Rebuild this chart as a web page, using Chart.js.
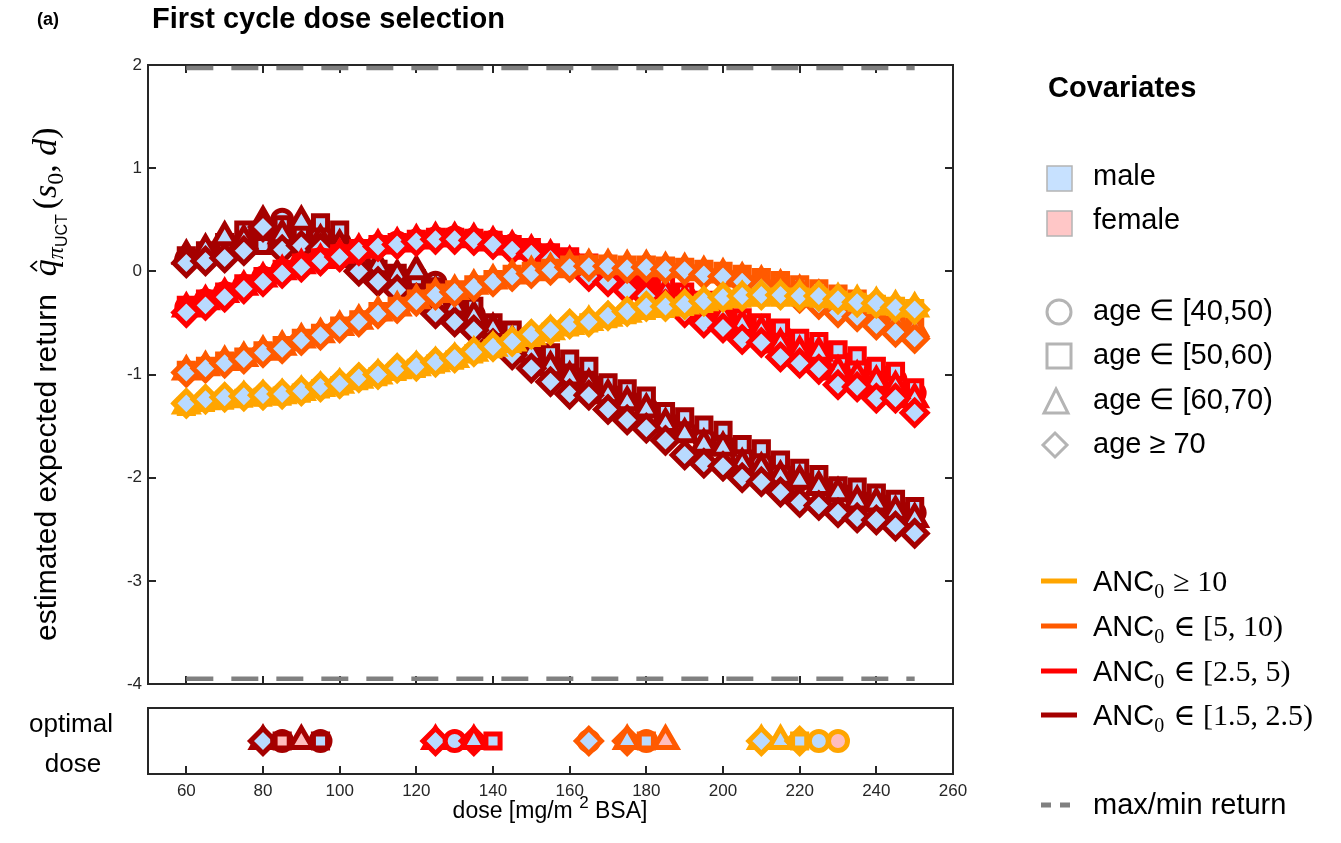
<!DOCTYPE html>
<html>
<head>
<meta charset="utf-8">
<script src="https://cdn.jsdelivr.net/npm/chart.js@4.4.0/dist/chart.umd.min.js"></script>
<style>
  html, body { margin: 0; padding: 0; background: #fff; }
  #wrap { position: relative; width: 1341px; height: 843px; overflow: hidden; }
  #mainChart { position: absolute; left: 0; top: 0; }
  #optChart { position: absolute; left: 0; top: 690px; }
</style>
</head>
<body>
<div id="wrap">
  <canvas id="mainChart" width="1341" height="843"></canvas>
  <canvas id="optChart" width="1341" height="153"></canvas>
</div>
<script>
// dose grid (mg/m^2 BSA)
const doses = [60,65,70,75,80,85,90,95,100,105,110,115,120,125,130,135,140,145,150,155,160,165,170,175,180,185,190,195,200,205,210,215,220,225,230,235,240,245,250];

// ANC0 >= 10
const yelSq  = [-1.31,-1.27,-1.25,-1.23,-1.22,-1.21,-1.18,-1.14,-1.11,-1.06,-1.02,-0.97,-0.94,-0.90,-0.86,-0.80,-0.75,-0.70,-0.64,-0.59,-0.54,-0.50,-0.46,-0.42,-0.38,-0.36,-0.34,-0.31,-0.28,-0.26,-0.25,-0.25,-0.25,-0.26,-0.28,-0.30,-0.32,-0.34,-0.36];
const yelTri = [-1.30,-1.26,-1.24,-1.22,-1.21,-1.20,-1.17,-1.13,-1.10,-1.05,-1.01,-0.96,-0.93,-0.89,-0.85,-0.79,-0.74,-0.69,-0.63,-0.58,-0.53,-0.49,-0.45,-0.41,-0.36,-0.35,-0.33,-0.30,-0.27,-0.25,-0.24,-0.24,-0.24,-0.25,-0.27,-0.29,-0.31,-0.34,-0.36];
const yelDia = [-1.28,-1.24,-1.22,-1.21,-1.20,-1.19,-1.16,-1.12,-1.09,-1.03,-1.00,-0.94,-0.92,-0.88,-0.84,-0.78,-0.73,-0.68,-0.61,-0.57,-0.51,-0.49,-0.43,-0.39,-0.34,-0.34,-0.32,-0.29,-0.25,-0.24,-0.23,-0.23,-0.24,-0.24,-0.27,-0.30,-0.31,-0.35,-0.37];

// ANC0 in [5,10)
const orgSq  = [-0.96,-0.92,-0.87,-0.83,-0.77,-0.72,-0.65,-0.60,-0.53,-0.47,-0.39,-0.34,-0.27,-0.21,-0.18,-0.13,-0.08,-0.03,0.00,0.03,0.06,0.07,0.07,0.06,0.06,0.05,0.04,0.02,0.00,-0.03,-0.06,-0.09,-0.13,-0.17,-0.22,-0.27,-0.33,-0.41,-0.48];
const orgTri = [-0.97,-0.93,-0.88,-0.84,-0.78,-0.73,-0.66,-0.61,-0.54,-0.48,-0.40,-0.35,-0.28,-0.22,-0.19,-0.14,-0.09,-0.04,-0.01,0.02,0.05,0.06,0.06,0.05,0.05,0.03,0.02,-0.01,-0.03,-0.07,-0.10,-0.14,-0.19,-0.24,-0.30,-0.35,-0.42,-0.48,-0.55];
const orgDia = [-0.98,-0.94,-0.89,-0.85,-0.79,-0.75,-0.67,-0.62,-0.55,-0.49,-0.41,-0.36,-0.29,-0.23,-0.20,-0.15,-0.10,-0.05,-0.02,0.01,0.04,0.05,0.05,0.03,0.04,0.02,0.01,-0.03,-0.05,-0.10,-0.16,-0.21,-0.26,-0.32,-0.40,-0.44,-0.52,-0.59,-0.65];

// ANC0 in [2.5,5)
const redCirc = [-0.35,-0.28,-0.21,-0.14,-0.06,0.01,0.07,0.12,0.16,0.21,0.25,0.28,0.30,0.32,0.33,0.31,0.29,0.25,0.21,0.16,0.11,0.05,-0.01,-0.07,-0.13,-0.18,-0.24,-0.32,-0.41,-0.48,-0.54,-0.62,-0.71,-0.74,-0.86,-0.92,-0.99,-1.05,-1.18];
const redSq   = [-0.33,-0.27,-0.20,-0.12,-0.05,0.02,0.08,0.13,0.17,0.22,0.26,0.28,0.31,0.33,0.33,0.32,0.30,0.26,0.23,0.18,0.14,0.08,0.02,-0.04,-0.10,-0.13,-0.20,-0.28,-0.38,-0.45,-0.50,-0.55,-0.65,-0.68,-0.76,-0.82,-0.92,-0.97,-1.13];
const redTri  = [-0.36,-0.29,-0.22,-0.15,-0.07,0.00,0.06,0.11,0.16,0.21,0.25,0.27,0.30,0.32,0.32,0.31,0.28,0.24,0.20,0.15,0.09,0.03,-0.03,-0.09,-0.16,-0.22,-0.28,-0.36,-0.44,-0.52,-0.58,-0.71,-0.78,-0.79,-0.97,-1.02,-1.07,-1.12,-1.24];
const redDia  = [-0.40,-0.33,-0.25,-0.17,-0.10,-0.02,0.04,0.10,0.14,0.20,0.24,0.26,0.29,0.31,0.31,0.30,0.26,0.21,0.17,0.12,0.04,-0.05,-0.10,-0.18,-0.24,-0.32,-0.40,-0.50,-0.55,-0.66,-0.69,-0.83,-0.89,-0.95,-1.10,-1.12,-1.23,-1.23,-1.37];

// ANC0 in [1.5,2.5)
const drCirc = [0.12,0.15,0.22,0.28,0.35,0.50,0.40,0.35,0.28,0.10,0.00,-0.05,-0.10,-0.11,-0.30,-0.42,-0.55,-0.66,-0.78,-0.90,-1.00,-1.08,-1.18,-1.25,-1.32,-1.45,-1.55,-1.62,-1.68,-1.80,-1.86,-1.95,-2.02,-2.07,-2.14,-2.21,-2.24,-2.30,-2.34];
const drSq   = [0.15,0.20,0.28,0.40,0.25,0.45,0.40,0.47,0.40,0.15,0.02,-0.02,-0.07,-0.15,-0.28,-0.34,-0.50,-0.57,-0.70,-0.79,-0.85,-0.92,-1.08,-1.14,-1.21,-1.36,-1.41,-1.49,-1.54,-1.68,-1.72,-1.83,-1.91,-1.97,-2.08,-2.09,-2.15,-2.21,-2.28];
const drTri  = [0.15,0.21,0.33,0.30,0.48,0.35,0.48,0.30,0.25,0.12,0.05,-0.04,0.00,-0.20,-0.34,-0.44,-0.56,-0.68,-0.80,-0.93,-1.03,-1.10,-1.20,-1.27,-1.34,-1.48,-1.58,-1.68,-1.71,-1.87,-1.91,-1.99,-2.03,-2.09,-2.15,-2.23,-2.25,-2.33,-2.40];
const drDia  = [0.08,0.10,0.13,0.20,0.43,0.21,0.25,0.22,0.15,0.00,-0.10,-0.18,-0.26,-0.41,-0.49,-0.57,-0.70,-0.81,-0.94,-1.07,-1.19,-1.20,-1.34,-1.44,-1.52,-1.64,-1.78,-1.86,-1.89,-2.00,-2.04,-2.14,-2.24,-2.27,-2.34,-2.39,-2.41,-2.47,-2.54];

const maxReturn = 1.97;
const minReturn = -3.95;

// optimal dose panel: dose, ANC group (0 = >=10 ... 3 = [1.5,2.5)), age group, sex
const optDose  = [80,80,85,85,90,95,95, 125,125,130,135,135,140, 165,165,175,175,180,180,185, 210,210,215,220,220,225,230];
const optGroup = [3,3,3,3,3,3,3, 2,2,2,2,2,2, 1,1,1,1,1,1,1, 0,0,0,0,0,0,0];
const optAge   = [2,3,0,1,2,0,1, 2,3,0,3,2,1, 0,3,3,2,0,1,2, 2,3,2,3,1,0,0];
const optSex   = ['m','m','m','f','f','m','m', 'm','m','m','m','m','m', 'm','m','m','m','m','m','f', 'm','m','m','m','m','m','f'];

const xTickVals = [60,80,100,120,140,160,180,200,220,240,260];
const yTickVals = [-4,-3,-2,-1,0,1,2];

const ancColors = ['#FFA500', '#FF5A00', '#FF0000', '#A50000'];
const ancRel = ['\u2265 10', '\u2208 [5, 10)', '\u2208 [2.5, 5)', '\u2208 [1.5, 2.5)'];
const ageLabels = ['age \u2208 [40,50)', 'age \u2208 [50,60)', 'age \u2208 [60,70)', 'age \u2265 70'];
const ageStyle = ['circle', 'rect', 'triangle', 'rectRot'];
const ageRadius = [9.5, 10, 13, 12.5];
const markEdge = 5;
const maleFill = '#B9DAFF';
const femaleFill = '#FFBDBD';

const SANS = '"Liberation Sans", Arial, Helvetica, sans-serif';
const SERIF = '"Liberation Serif", "DejaVu Serif", "Times New Roman", serif';
const INK = '#262626';

function series(values, anc, age) {
    return {
        data: values.map((v, i) => ({ x: doses[i], y: v })),
        showLine: false,
        pointStyle: ageStyle[age],
        pointRadius: ageRadius[age],
        pointHoverRadius: ageRadius[age],
        pointBorderWidth: markEdge,
        pointBackgroundColor: maleFill,
        pointBorderColor: ancColors[anc]
    };
}

function boundLine(y) {
    return {
        data: [{ x: 60, y: y }, { x: 250, y: y }],
        showLine: true,
        pointRadius: 0,
        borderColor: '#808080',
        borderWidth: 4.5,
        borderDash: [27, 18]
    };
}

// listed bottom-to-top, reversed because Chart.js paints dataset 0 last
const drawOrder = [
    boundLine(maxReturn), boundLine(minReturn),
    series(drCirc, 3, 0), series(drSq, 3, 1), series(drTri, 3, 2), series(drDia, 3, 3),
    series(redCirc, 2, 0), series(redSq, 2, 1), series(redTri, 2, 2), series(redDia, 2, 3),
    series(orgSq, 1, 1), series(orgTri, 1, 2), series(orgDia, 1, 3),
    series(yelSq, 0, 1), series(yelTri, 0, 2), series(yelDia, 0, 3)
];
const mainSets = drawOrder.slice().reverse();

function runs(ctx, x, y, parts) {
    for (const p of parts) {
        ctx.font = p.f;
        ctx.fillText(p.t, x, y + (p.dy || 0));
        x += ctx.measureText(p.t).width + (p.gap || 0);
    }
    return x;
}

// frame + inward ticks, MATLAB style
const mainFrame = {
    id: 'mainFrame',
    beforeDatasetsDraw(chart) {
        const { ctx, chartArea: a, scales } = chart;
        ctx.save();
        ctx.strokeStyle = INK;
        ctx.lineWidth = 2;
        ctx.beginPath();
        xTickVals.slice(0, -1).forEach(v => {
            const px = Math.round(scales.x.getPixelForValue(v));
            ctx.moveTo(px, a.top); ctx.lineTo(px, a.top + 8);
            ctx.moveTo(px, a.bottom); ctx.lineTo(px, a.bottom - 8);
        });
        yTickVals.forEach(v => {
            const py = Math.round(scales.y.getPixelForValue(v));
            ctx.moveTo(a.left, py); ctx.lineTo(a.left + 8, py);
            ctx.moveTo(a.right, py); ctx.lineTo(a.right - 8, py);
        });
        ctx.stroke();
        ctx.strokeRect(a.left, a.top, a.right - a.left, a.bottom - a.top);
        ctx.restore();
    }
};

const texts = {
    id: 'texts',
    afterDraw(chart) {
        const ctx = chart.ctx;
        ctx.save();
        ctx.fillStyle = '#000';
        ctx.textAlign = 'left';
        ctx.textBaseline = 'middle';

        ctx.font = `bold 18px ${SANS}`;
        ctx.fillText('(a)', 37, 20);
        ctx.font = `bold 29px ${SANS}`;
        ctx.fillText('First cycle dose selection', 152, 20);

        // y axis label
        ctx.save();
        ctx.translate(56, 641);
        ctx.rotate(-Math.PI / 2);
        ctx.textBaseline = 'alphabetic';
        let x = runs(ctx, 0, 0, [{ t: 'estimated expected return', f: `30px ${SANS}`, gap: 18 }]);
        const qx = x;
        runs(ctx, x, 0, [
            { t: 'q', f: `italic 34px ${SERIF}` },
            { t: '\u03C0', f: `italic 24px ${SERIF}`, dy: 7 },
            { t: 'UCT', f: `16px ${SANS}`, dy: 11, gap: 5 },
            { t: '(', f: `34px ${SERIF}` },
            { t: 's', f: `italic 34px ${SERIF}` },
            { t: '0', f: `24px ${SERIF}`, dy: 7 },
            { t: ', ', f: `34px ${SERIF}` },
            { t: 'd', f: `italic 34px ${SERIF}` },
            { t: ')', f: `34px ${SERIF}` }
        ]);
        ctx.strokeStyle = '#000';
        ctx.lineWidth = 1.8;
        ctx.beginPath();
        ctx.moveTo(qx + 5, -19); ctx.lineTo(qx + 10, -25); ctx.lineTo(qx + 15, -19);
        ctx.stroke();
        ctx.restore();

        // optimal dose label
        ctx.textAlign = 'center';
        ctx.font = `26px ${SANS}`;
        ctx.fillText('optimal', 71, 725);
        ctx.fillText('dose', 73, 765);

        // x axis label with superscript
        ctx.textAlign = 'left';
        ctx.textBaseline = 'alphabetic';
        ctx.font = `23px ${SANS}`;
        const w1 = ctx.measureText('dose [mg/m ').width;
        const w3 = ctx.measureText(' BSA]').width;
        ctx.font = `17px ${SANS}`;
        const w2 = ctx.measureText('2').width;
        runs(ctx, 550 - (w1 + w2 + w3) / 2, 818, [
            { t: 'dose [mg/m ', f: `23px ${SANS}` },
            { t: '2', f: `17px ${SANS}`, dy: -10 },
            { t: ' BSA]', f: `23px ${SANS}` }
        ]);

        // legend: covariates
        ctx.textBaseline = 'middle';
        ctx.font = `bold 29px ${SANS}`;
        ctx.fillText('Covariates', 1048, 89);

        ctx.font = `29px ${SANS}`;
        ctx.lineWidth = 1.5;
        ctx.strokeStyle = '#B4B4B4';
        ctx.fillStyle = '#C7E1FF';
        ctx.fillRect(1047, 166, 25, 25); ctx.strokeRect(1047, 166, 25, 25);
        ctx.fillStyle = '#FFC7C7';
        ctx.fillRect(1047, 211, 25, 25); ctx.strokeRect(1047, 211, 25, 25);
        ctx.fillStyle = '#000';
        ctx.fillText('male', 1093, 177);
        ctx.fillText('female', 1093, 221);

        const ageY = [312, 356, 401, 445];
        ctx.lineWidth = 3;
        ctx.beginPath(); ctx.arc(1059, ageY[0], 12, 0, Math.PI * 2); ctx.stroke();
        ctx.strokeRect(1047, ageY[1] - 12, 24, 24);
        ctx.beginPath();
        ctx.moveTo(1056, ageY[2] - 12); ctx.lineTo(1068, ageY[2] + 12); ctx.lineTo(1044, ageY[2] + 12); ctx.closePath();
        ctx.stroke();
        ctx.beginPath();
        ctx.moveTo(1055, ageY[3] - 12); ctx.lineTo(1067, ageY[3]); ctx.lineTo(1055, ageY[3] + 12); ctx.lineTo(1043, ageY[3]); ctx.closePath();
        ctx.stroke();
        ageLabels.forEach((t, i) => ctx.fillText(t, 1093, ageY[i]));

        // legend: ANC
        const ancY = [581, 626, 671, 715];
        ctx.textBaseline = 'alphabetic';
        ctx.lineWidth = 5;
        ancColors.forEach((c, i) => {
            ctx.strokeStyle = c;
            ctx.beginPath(); ctx.moveTo(1041, ancY[i]); ctx.lineTo(1077, ancY[i]); ctx.stroke();
            runs(ctx, 1093, ancY[i] + 10, [
                { t: 'ANC', f: `29px ${SANS}` },
                { t: '0', f: `20px ${SERIF}`, dy: 7, gap: 9 },
                { t: ancRel[i], f: `30px ${SERIF}` }
            ]);
        });

        ctx.strokeStyle = '#808080';
        ctx.beginPath();
        ctx.moveTo(1041, 805); ctx.lineTo(1051, 805);
        ctx.moveTo(1060, 805); ctx.lineTo(1070, 805);
        ctx.stroke();
        ctx.textBaseline = 'middle';
        ctx.font = `29px ${SANS}`;
        ctx.fillText('max/min return', 1093, 806);
        ctx.restore();
    }
};

new Chart(document.getElementById('mainChart'), {
    type: 'scatter',
    data: { datasets: mainSets },
    options: {
        responsive: false,
        animation: false,
        devicePixelRatio: 1,
        layout: { padding: { left: 108, right: 388, top: 65, bottom: 159 } },
        plugins: { legend: { display: false }, tooltip: { enabled: false } },
        scales: {
            x: { type: 'linear', min: 50, max: 260, display: false },
            y: {
                type: 'linear', min: -4, max: 2,
                grid: { display: false, drawTicks: false },
                border: { display: false },
                afterBuildTicks: s => { s.ticks = yTickVals.map(v => ({ value: v })); },
                afterFit: s => { s.width = 40; },
                ticks: { padding: 6, color: INK, font: { family: SANS, size: 17 } }
            }
        }
    },
    plugins: [mainFrame, texts]
});

const optFrame = {
    id: 'optFrame',
    beforeDatasetsDraw(chart) {
        const { ctx, chartArea: a, scales } = chart;
        ctx.save();
        ctx.strokeStyle = INK;
        ctx.lineWidth = 2;
        ctx.beginPath();
        xTickVals.slice(0, -1).forEach(v => {
            const px = Math.round(scales.x.getPixelForValue(v));
            ctx.moveTo(px, a.bottom); ctx.lineTo(px, a.bottom - 8);
        });
        ctx.stroke();
        ctx.strokeRect(a.left, a.top, a.right - a.left, a.bottom - a.top);
        ctx.restore();
    }
};

new Chart(document.getElementById('optChart'), {
    type: 'scatter',
    data: {
        datasets: [{
            data: optDose.map(d => ({ x: d, y: 0.5 })),
            pointStyle: optAge.map(a => ageStyle[a]),
            pointRadius: optAge.map(a => ageRadius[a]),
            pointHoverRadius: optAge.map(a => ageRadius[a]),
            pointBorderWidth: markEdge,
            pointBackgroundColor: optSex.map(s => s === 'f' ? femaleFill : maleFill),
            pointBorderColor: optGroup.map(g => ancColors[g])
        }]
    },
    options: {
        responsive: false,
        animation: false,
        devicePixelRatio: 1,
        layout: { padding: { left: 148, right: 388, top: 13, bottom: 39 } },
        plugins: { legend: { display: false }, tooltip: { enabled: false } },
        scales: {
            x: {
                type: 'linear', min: 50, max: 260,
                grid: { display: false, drawTicks: false },
                border: { display: false },
                afterBuildTicks: s => { s.ticks = xTickVals.map(v => ({ value: v })); },
                afterFit: s => { s.height = 30; },
                ticks: { padding: 7, color: INK, maxRotation: 0, autoSkip: false, font: { family: SANS, size: 17 } }
            },
            y: { type: 'linear', min: 0, max: 1, display: false }
        }
    },
    plugins: [optFrame]
});
</script>
</body>
</html>
